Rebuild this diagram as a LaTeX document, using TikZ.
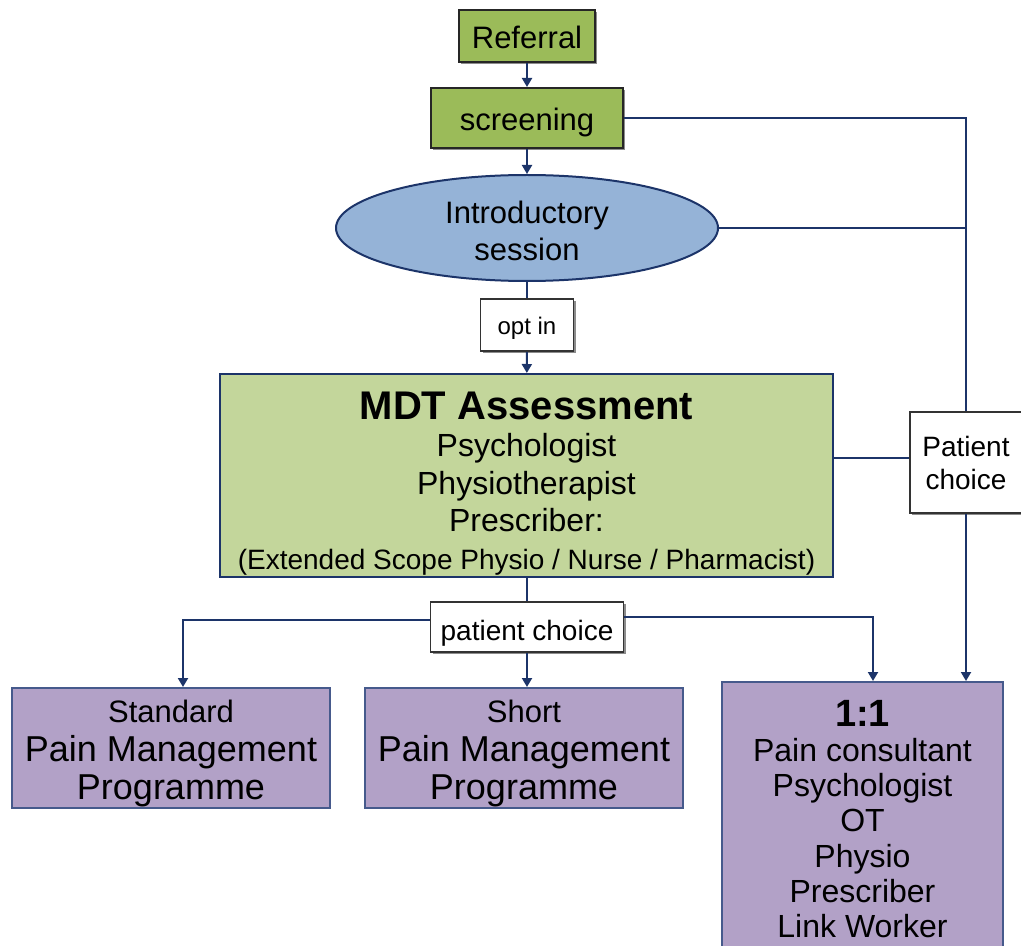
\documentclass[tikz,border=0pt]{standalone}
\usepackage{fontspec}
\setmainfont{Liberation Sans}
\usetikzlibrary{arrows.meta,shapes.geometric,calc,shadows}
\definecolor{grn}{RGB}{155,187,89}
\definecolor{lgrn}{RGB}{195,214,155}
\definecolor{ebl}{RGB}{149,179,215}
\definecolor{purp}{RGB}{178,161,199}
\definecolor{navy}{RGB}{28,52,105}
\definecolor{pborder}{RGB}{70,90,140}
\tikzset{
  ln/.style={draw=navy,line width=1pt},
  arr/.style={ln,-{Triangle[width=5pt,length=4.5pt]}},
  shad/.style={drop shadow={shadow xshift=1.2pt,shadow yshift=-1.2pt,fill=black,opacity=.45}},
  gbox/.style={rectangle,draw=black!85,line width=1pt,fill=grn,inner sep=0pt,shad,text height=13pt,text depth=0pt,font=\fontsize{15.5}{18}\selectfont},
  wbox/.style={rectangle,draw=black!80,line width=.8pt,fill=white,inner sep=0pt,shad,align=center},
  pbox/.style={rectangle,draw=pborder,line width=1pt,fill=purp,inner sep=0pt,align=center},
}
\begin{document}
\begin{tikzpicture}[x=0.5pt,y=-0.5pt]
\useasboundingbox (0,0) rectangle (1021,946);
\clip (0,0) rectangle (1021,946);
\node[gbox,minimum width=68pt,minimum height=26pt] (ref) at (527,36) {Referral};
\node[gbox,minimum width=96pt,minimum height=30pt] (scr) at (527,118) {screening};
\node[ellipse,draw=navy,line width=1pt,fill=ebl,inner sep=0pt,minimum width=191pt,minimum height=53pt,align=center,font=\fontsize{15.5}{18.5}\selectfont] (intro) at (527,228) {\rule{0pt}{14.3pt}Introductory\\session};
\node[wbox,minimum width=46.5pt,minimum height=26pt,text height=10pt,text depth=0pt,font=\fontsize{12}{14}\selectfont] (optin) at (527,325) {opt in};
\node[rectangle,draw=navy,line width=1pt,fill=lgrn,inner sep=0pt,minimum width=306.5pt,minimum height=101.5pt,align=center,font=\fontsize{16}{18.75}\selectfont] (mdt) at (526.5,475.5)
  {{\fontsize{20}{18.75}\selectfont\bfseries\rule{0pt}{21.5pt}MDT Assessment}\\Psychologist\\Physiotherapist\\Prescriber:\\{\fontsize{14}{18.75}\selectfont(Extended Scope Physio / Nurse / Pharmacist)}};
\node[wbox,minimum width=96.5pt,minimum height=25pt,text height=13pt,text depth=0pt,font=\fontsize{14}{16}\selectfont] (pc) at (527,627) {patient choice};
\node[wbox,minimum width=56pt,minimum height=50.5pt,font=\fontsize{14}{16.5}\selectfont] (pcr) at (966,462.5) {Patient\\choice};
\node[pbox,minimum width=159pt,minimum height=60pt,font=\fontsize{18}{19.25}\selectfont] (std) at (171,748)
  {{\fontsize{15.5}{19.25}\selectfont\rule{0pt}{17pt}Standard}\\Pain Management\\Programme};
\node[pbox,minimum width=159pt,minimum height=60pt,font=\fontsize{18}{19.25}\selectfont] (short) at (524,748)
  {{\fontsize{15.5}{19.25}\selectfont\rule{0pt}{17pt}Short}\\Pain Management\\Programme};
\node[pbox,minimum width=140.5pt,minimum height=137pt,font=\fontsize{16}{17.6}\selectfont] (one) at (862.5,819)
  {{\fontsize{19}{19.5}\selectfont\bfseries 1:1}\\Pain consultant\\Psychologist\\OT\\Physio\\Prescriber\\Link Worker};
% connectors
\draw[arr] (ref) -- (scr);
\draw[arr] (scr) -- (intro);
\draw[ln] (intro) -- (optin);
\draw[arr] (optin) -- (mdt);
\draw[ln] (mdt.south -| pc.north) -- (pc.north);
\draw[arr] (pc.south) -- (pc.south |- short.north);
\coordinate (pcw) at ($(pc.west)+(0,-7)$);
\coordinate (stdin) at ($(std.north)+(12,0)$);
\draw[arr] (pcw) -| (stdin);
\coordinate (pce) at ($(pc.east)+(0,-10)$);
\coordinate (onein) at ($(one.north)+(10.5,0)$);
\draw[arr] (pce) -| (onein);
\draw[ln] (scr.east) -| (pcr.north);
\draw[ln] (intro.east) -- (intro.east -| pcr.north);
\coordinate (mdte) at ($(mdt.east)+(0,-17.5)$);
\draw[ln] (mdte) -- (mdte -| pcr.west);
\draw[arr] (pcr.south) -- (pcr.south |- one.north);
\end{tikzpicture}
\end{document}
